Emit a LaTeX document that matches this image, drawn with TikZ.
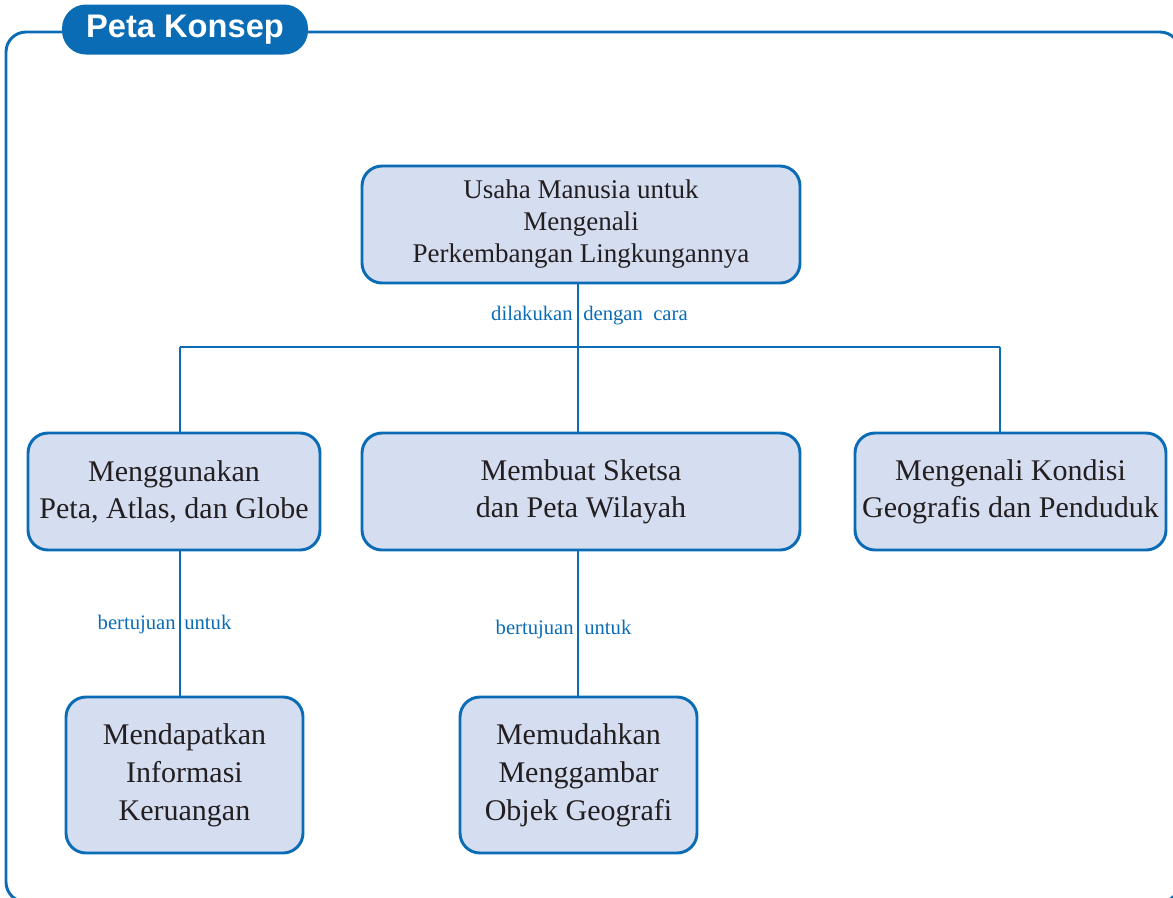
\documentclass[tikz,border=0pt]{standalone}
\usepackage{fontspec}
\setmainfont{Liberation Serif}
\newfontfamily\headfont{Liberation Sans}
\usepackage{xcolor}
\definecolor{petablue}{HTML}{0A6CB5}
\definecolor{petafill}{HTML}{D5DDF1}
\definecolor{petatext}{HTML}{231F20}

\begin{document}
\begin{tikzpicture}[x=0.75pt, y=-0.75pt,
    konsep/.style={draw=petablue, fill=petafill, line width=2.2pt, rounded corners=15pt,
                   align=center, text=petatext, inner sep=0pt},
    atas/.style={konsep, minimum width=328.5pt, minimum height=87.75pt,
                 font=\fontsize{20.25}{24}\selectfont},
    tengah/.style={konsep, minimum height=87.75pt, font=\fontsize{22.5}{27.75}\selectfont},
    bawah/.style={konsep, minimum width=177.75pt, minimum height=117pt,
                  font=\fontsize{22.5}{28.5}\selectfont},
    ket/.style={text=petablue, inner sep=0pt, font=\fontsize{15.5}{18}\selectfont},
    garis/.style={draw=petablue, line width=2.2pt}]

    \useasboundingbox (0,0) rectangle (1173,897);
    \clip (0,0) rectangle (1173,897);

    % frame and title
    \draw [petablue, line width=2.2pt, rounded corners=15pt] (6,32) rectangle (1180,902);
    \node (judul) [fill=petablue, rounded corners=18pt, minimum width=184.5pt, minimum height=37.5pt,
        inner sep=0pt, text=white, font=\headfont\bfseries\fontsize{24.5}{27}\selectfont]
        at (185,29.5) {Peta Konsep};

    \node (usaha) [atas] at (581, 224.5) {Usaha Manusia untuk\\ Mengenali\\ Perkembangan Lingkungannya};
    \node (peta) [tengah, minimum width=219pt] at (174, 491.5) {Menggunakan\\ Peta, Atlas, dan Globe};
    \node (sketsa) [tengah, minimum width=328.5pt] at (581, 491.5) {Membuat Sketsa\\ dan Peta Wilayah};
    \node (kondisi) [tengah, minimum width=233.25pt] at (1010.5, 491.5) {Mengenali Kondisi\\ Geografis dan Penduduk};
    \node (informasi) [bawah] at (184.5, 775) {Mendapatkan\\ Informasi\\ Keruangan};
    \node (objek) [bawah] at (578.5, 775) {Memudahkan\\ Menggambar\\ Objek Geografi};

    \coordinate (cabangL) at (180, 347);
    \coordinate (cabangC) at (578, 347);
    \coordinate (cabangR) at (1000, 347);

    \draw [garis] (usaha.south -| cabangC) to (cabangC);
    \draw [garis] (cabangL) to (cabangR);
    \draw [garis] (cabangL) to (peta.north -| cabangL);
    \draw [garis] (cabangC) to (sketsa.north -| cabangC);
    \draw [garis] (cabangR) to (kondisi.north -| cabangR);
    \draw [garis] (peta.south -| cabangL) to (informasi.north -| cabangL);
    \draw [garis] (sketsa.south -| cabangC) to (objek.north -| cabangC);

    \node (cara1) [ket, anchor=base east] at (573, 320) {dilakukan};
    \node (cara2) [ket, anchor=base west] at (583, 320) {dengan\ \ cara};
    \node (tujuan1) [ket, anchor=base east] at (176, 629) {bertujuan};
    \node (tujuan2) [ket, anchor=base west] at (184, 629) {untuk};
    \node (tujuan3) [ket, anchor=base east] at (574, 634) {bertujuan};
    \node (tujuan4) [ket, anchor=base west] at (584, 634) {untuk};

\end{tikzpicture}
\end{document}
